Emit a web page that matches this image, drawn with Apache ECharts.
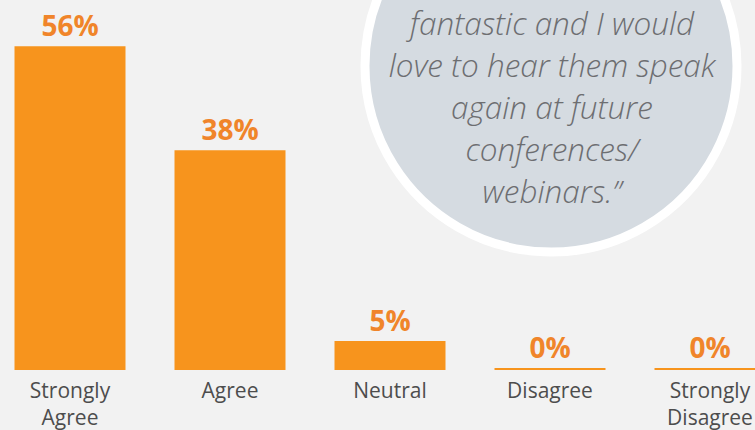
<!DOCTYPE html>
<html>
<head>
<meta charset="utf-8">
<script src="https://cdn.jsdelivr.net/npm/echarts@6/dist/echarts.min.js"></script>
<style>
  html, body { margin: 0; padding: 0; background: #f2f2f2; }
  #chart { width: 755px; height: 430px; }
</style>
</head>
<body>
<div id="chart"></div>
<script>
// survey answers
var categories = ['Strongly\nAgree', 'Agree', 'Neutral', 'Disagree', 'Strongly\nDisagree']
var percents = [56, 38, 5, 0, 0]
var quoteLines = ['fantastic and I would', 'love to hear them speak', 'again at future', 'conferences/', 'webinars.\u201d']

var chart = echarts.init(document.getElementById('chart'), null, { renderer: 'svg' })

var option = {
  backgroundColor: '#f2f2f2',
  animation: false,
  grid: { left: -10, right: -35, top: 0, bottom: 60, outerBoundsMode: 'none', containLabel: false },
  // quote bubble in the corner
  graphic: [
    {
      type: 'circle',
      shape: { cx: 551, cy: 66, r: 186 },
      style: { fill: '#d5dbe1', stroke: '#ffffff', lineWidth: 9 },
      z: -1
    },
    {
      type: 'text',
      x: 552,
      y: 1,
      style: {
        text: quoteLines.join('\n'),
        fill: '#6d6e71',
        font: 'italic 300 31.5px "Open Sans"',
        align: 'center',
        verticalAlign: 'top',
        lineHeight: 42
      },
      z: 0
    }
  ],
  xAxis: {
    type: 'category',
    data: categories,
    axisLine: { show: false },
    axisTick: { show: false },
    axisLabel: {
      interval: 0,
      color: '#4d4d4d',
      fontFamily: 'Open Sans',
      fontSize: 21,
      lineHeight: 27,
      margin: 6
    }
  },
  yAxis: {
    type: 'value',
    min: 0,
    max: 64,
    show: false,
    splitLine: { show: false }
  },
  series: [{
    type: 'bar',
    data: percents,
    barWidth: 111,
    barMinHeight: 2,
    itemStyle: { color: '#f7941d' },
    label: {
      show: true,
      position: 'top',
      distance: 7,
      formatter: '{c}%',
      color: '#f0852a',
      fontFamily: 'Open Sans',
      fontWeight: 'bold',
      fontSize: 28
    }
  }]
}

chart.setOption(option)
</script>
</body>
</html>
